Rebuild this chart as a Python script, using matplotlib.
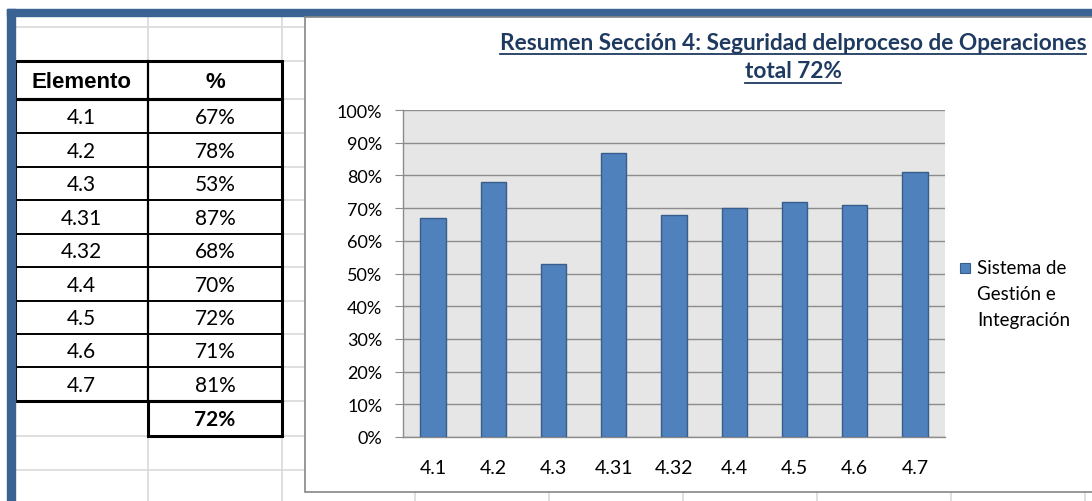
import matplotlib.pyplot as plt
from matplotlib.patches import Rectangle
from matplotlib.ticker import PercentFormatter

# ----------------------------
# DATA
# ----------------------------
elementos = ["4.1", "4.2", "4.3", "4.31", "4.32", "4.4", "4.5", "4.6", "4.7"]
porcentajes = [67, 78, 53, 87, 68, 70, 72, 71, 81]
total = 72
serie = "Sistema de\nGestión e\nIntegración"
titulo = "Resumen Sección 4: Seguridad delproceso de Operaciones\ntotal 72%"

# ----------------------------
# STYLE
# ----------------------------
W, H = 1092, 502
BLUE_SHEET = "#3A6394"
GRID_SHEET = "#D9D9D9"
BAR_FACE = "#4F81BD"
BAR_EDGE = "#385D8A"
TITLE_COL = "#1F3A60"
FONT = ["Lato", "DejaVu Sans"]

fig = plt.figure(figsize=(W / 100, H / 100), dpi=100)
bg = fig.add_axes([0, 0, 1, 1])
bg.set_xlim(0, W)
bg.set_ylim(H, 0)
bg.axis("off")

# spreadsheet grid
col_x = [148, 282, 415, 549, 683, 817, 951, 1085]
row_y = [28, 62, 100, 134, 168, 201, 235, 268, 302, 335, 368, 402, 437, 471]
for x in col_x:
    bg.plot([x, x], [17, H], color=GRID_SHEET, lw=1.2, zorder=1)
for y in row_y:
    bg.plot([15, W], [y, y], color=GRID_SHEET, lw=1.2, zorder=1)

# blue frame
bg.add_patch(Rectangle((7, 10), W - 7, 7, color=BLUE_SHEET, zorder=5))
bg.add_patch(Rectangle((7, 10), 8, H - 10, color=BLUE_SHEET, zorder=5))

# ----------------------------
# TABLE
# ----------------------------
x0, xm, x1 = 15, 148, 282
head_top, head_bot = 62, 100
rows = [100, 134, 168, 201, 235, 268, 302, 335, 368, 402]

bg.add_patch(Rectangle((x0, head_top), x1 - x0, head_bot - head_top,
                       facecolor="white", edgecolor="none", zorder=2))
bg.add_patch(Rectangle((x0, head_bot), x1 - x0, rows[-1] - head_bot,
                       facecolor="white", edgecolor="none", zorder=2))
bg.add_patch(Rectangle((xm, 402), x1 - xm, 35,
                       facecolor="white", edgecolor="black", lw=2.2, zorder=3))

hdr_font = ["Liberation Sans Narrow", "Liberation Sans", "DejaVu Sans"]
bg.text((x0 + xm) / 2, (head_top + head_bot) / 2 + 1, "Elemento", ha="center",
        va="center", fontsize=16, fontweight="bold", family=hdr_font, zorder=4)
bg.text((xm + x1) / 2, (head_top + head_bot) / 2 + 1, "%", ha="center",
        va="center", fontsize=16, fontweight="bold", family=hdr_font, zorder=4)

for i, (e, p) in enumerate(zip(elementos, porcentajes)):
    yc = (rows[i] + rows[i + 1]) / 2
    bg.text((x0 + xm) / 2, yc + 1, e, ha="center", va="center",
            fontsize=15, family=FONT, zorder=4)
    bg.text((xm + x1) / 2, yc + 1, f"{p}%", ha="center", va="center",
            fontsize=15, family=FONT, zorder=4)
bg.text((xm + x1) / 2, 420, f"{total}%", ha="center", va="center",
        fontsize=15, fontweight="bold", family=FONT, zorder=4)

for y in rows[1:-1]:
    bg.plot([x0, x1], [y, y], color="black", lw=1.4, zorder=3)
bg.plot([xm, xm], [head_top, rows[-1]], color="black", lw=1.6, zorder=3)
bg.add_patch(Rectangle((x0, head_top), x1 - x0, head_bot - head_top,
                       facecolor="none", edgecolor="black", lw=2.2, zorder=3))
bg.add_patch(Rectangle((x0, head_bot), x1 - x0, rows[-1] - head_bot,
                       facecolor="none", edgecolor="black", lw=2.2, zorder=3))

# ----------------------------
# CHART BOX
# ----------------------------
bg.add_patch(Rectangle((305, 18), W - 305 + 5, 475, facecolor="white",
                       edgecolor="#868686", lw=1.2, zorder=6))

# title (underlined)
fig.canvas.draw()
rend = fig.canvas.get_renderer()
for k, line in enumerate(titulo.split("\n")):
    t = bg.text(793, 43 + k * 29, line, ha="center", va="center", fontsize=16.3,
                fontweight="bold", color=TITLE_COL, family=FONT, zorder=7)
    bb = t.get_window_extent(renderer=rend)
    yl = H - bb.y0 + 1
    bg.plot([bb.x0, bb.x1], [yl, yl], color=TITLE_COL, lw=1.3, zorder=7)

# legend
bg.add_patch(Rectangle((960, 264), 10, 10, facecolor=BAR_FACE,
                       edgecolor=BAR_EDGE, lw=0.8, zorder=7))
bg.text(977, 260, serie, ha="left", va="top", fontsize=13.5, family=FONT,
        linespacing=1.65, zorder=7)

# ----------------------------
# BAR PLOT
# ----------------------------
ax = fig.add_axes([403 / W, (H - 438) / H, (945 - 403) / W, (438 - 111) / H])
ax.set_zorder(8)
ax.set_facecolor("#E6E6E6")
ax.bar(range(len(elementos)), porcentajes, width=0.42, color=BAR_FACE,
       edgecolor=BAR_EDGE, linewidth=1, zorder=3)
ax.set_xlim(-0.5, len(elementos) - 0.5)
ax.set_ylim(0, 100)
ax.set_yticks(range(0, 101, 10))
ax.yaxis.set_major_formatter(PercentFormatter(decimals=0))
ax.set_xticks(range(len(elementos)))
ax.set_xticklabels(elementos)
ax.grid(axis="y", color="#8C8C8C", lw=1, zorder=1)
ax.set_axisbelow(True)
for s in ["top", "right"]:
    ax.spines[s].set_visible(False)
for s in ["left", "bottom"]:
    ax.spines[s].set_color("#8C8C8C")
    ax.spines[s].set_linewidth(1)
ax.tick_params(axis="y", length=6, color="#8C8C8C", labelsize=13, pad=9)
ax.tick_params(axis="x", length=0, labelsize=14, pad=16)
for lab in ax.get_xticklabels() + ax.get_yticklabels():
    lab.set_family(FONT)

fig.savefig("out.png", dpi=100)
